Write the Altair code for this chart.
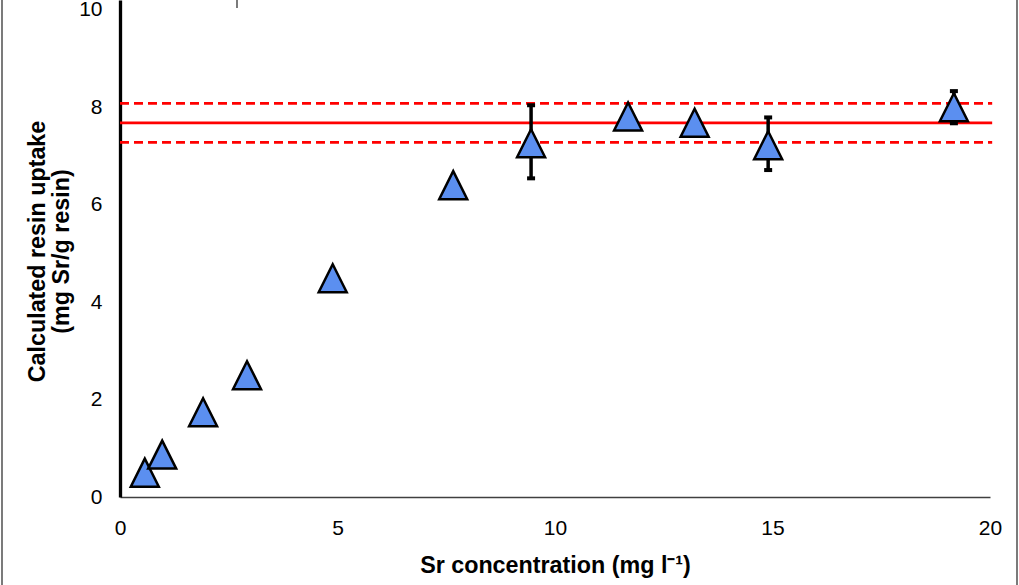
import altair as alt
import pandas as pd

# Measured data (Sr concentration vs calculated resin uptake)
sr_conc = [0.57, 0.97, 1.91, 2.92, 4.89, 7.66, 9.45, 11.68, 13.21, 14.90, 19.17]
uptake = [0.50, 0.87, 1.74, 2.50, 4.49, 6.40, 7.26, 7.81, 7.68, 7.22, 8.00]

# Error bars (only visible ones)
err_x = [9.45, 14.90, 19.17]
err_lo = [6.54, 6.71, 7.67]
err_hi = [8.04, 7.79, 8.33]

# Plateau mean and +/- band
level_names = ["lower", "mean", "upper"]
level_vals = [7.28, 7.68, 8.08]
level_dash = ["dashed", "solid", "dashed"]
line_x0 = 0
line_x1 = 20.05

x_ticks = [0, 5, 10, 15, 20]
y_ticks = [0, 2, 4, 6, 8, 10]

FONT = "Liberation Sans, Arial, sans-serif"

pts = pd.DataFrame({"x": sr_conc, "y": uptake})
errs = pd.DataFrame({"x": err_x, "lo": err_lo, "hi": err_hi})
levels = pd.DataFrame({"name": level_names, "y": level_vals, "style": level_dash,
                       "x0": [line_x0] * 3, "x1": [line_x1] * 3})

xscale = alt.Scale(domain=[0, 20], nice=False, zero=False)
yscale = alt.Scale(domain=[0, 10.2], nice=False, zero=False)

xaxis = alt.Axis(values=x_ticks, grid=False, ticks=False, tickSize=0,
                 domainColor="#404040", domainWidth=1.5, labelFlush=False,
                 labelFont=FONT, labelFontSize=21, labelColor="black", labelPadding=20,
                 title="Sr concentration (mg l⁻¹)", titleFont=FONT, titleFontSize=23.3,
                 titleFontWeight="bold", titleColor="black", titleY=68, titleBaseline="middle")
yaxis = alt.Axis(values=y_ticks, grid=False, ticks=False, tickSize=0,
                 domainColor="black", domainWidth=3.3, labelFlush=False,
                 labelFont=FONT, labelFontSize=21, labelColor="black", labelPadding=18,
                 title=["Calculated resin uptake", "(mg Sr/g resin)"], titleFont=FONT,
                 titleFontSize=23.3, titleFontWeight="bold", titleColor="black",
                 titleX=-83, titleY=251, titleBaseline="middle", titleLineHeight=24)

solid = alt.Chart(levels).transform_filter(alt.datum.style == "solid").mark_rule(
    color="#FF0000", strokeWidth=2.8).encode(
    x=alt.X("x0:Q", scale=xscale, axis=xaxis), x2="x1:Q",
    y=alt.Y("y:Q", scale=yscale, axis=yaxis))
dashed = alt.Chart(levels).transform_filter(alt.datum.style == "dashed").mark_rule(
    color="#FF0000", strokeWidth=2.8, strokeDash=[9, 5]).encode(
    x=alt.X("x0:Q", scale=xscale, axis=xaxis), x2="x1:Q",
    y=alt.Y("y:Q", scale=yscale, axis=yaxis))

bars = alt.Chart(errs).mark_rule(color="black", strokeWidth=3.5).encode(
    x=alt.X("x:Q", scale=xscale, axis=xaxis),
    y=alt.Y("lo:Q", scale=yscale, axis=yaxis), y2="hi:Q")

cap_shape = "M-1,-0.5L1,-0.5L1,0.5L-1,0.5Z"
cap_hi = alt.Chart(errs).mark_point(shape=cap_shape, filled=True, color="black",
                                    size=64, opacity=1).encode(
    x=alt.X("x:Q", scale=xscale, axis=xaxis), y=alt.Y("hi:Q", scale=yscale, axis=yaxis))
cap_lo = alt.Chart(errs).mark_point(shape=cap_shape, filled=True, color="black",
                                    size=64, opacity=1).encode(
    x=alt.X("x:Q", scale=xscale, axis=xaxis), y=alt.Y("lo:Q", scale=yscale, axis=yaxis))

tri = "M0,-1L1,1L-1,1Z"
points = alt.Chart(pts).mark_point(shape=tri, filled=True, fill="#5B8FF0", stroke="black",
                                   strokeWidth=2.5, size=784, opacity=1,
                                   fillOpacity=1, strokeOpacity=1).encode(
    x=alt.X("x:Q", scale=xscale, axis=xaxis), y=alt.Y("y:Q", scale=yscale, axis=yaxis))

# figure frame fragments (outside plot area)
dummy = pd.DataFrame({"a": [0]})
frame_l = alt.Chart(dummy).mark_rule(color="#222", strokeWidth=1.2).encode(
    x=alt.value(-118), y=alt.value(0), y2=alt.value(585))
frame_r = alt.Chart(dummy).mark_rule(color="#222", strokeWidth=1.2).encode(
    x=alt.value(897), y=alt.value(0), y2=alt.value(585))
frame_t = alt.Chart(dummy).mark_rule(color="#222", strokeWidth=1.2).encode(
    x=alt.value(117), y=alt.value(0), y2=alt.value(8))

chart = alt.layer(solid, dashed, bars, cap_hi, cap_lo, points, frame_l, frame_r, frame_t).properties(
    width=870, height=497,
    padding={"left": 120, "top": 0, "right": 29, "bottom": 88},
    autosize=alt.AutoSizeParams(type="none"),
    background="white",
).configure_view(stroke=None)

chart.save("out.html", embed_options={"renderer": "svg", "actions": False})
